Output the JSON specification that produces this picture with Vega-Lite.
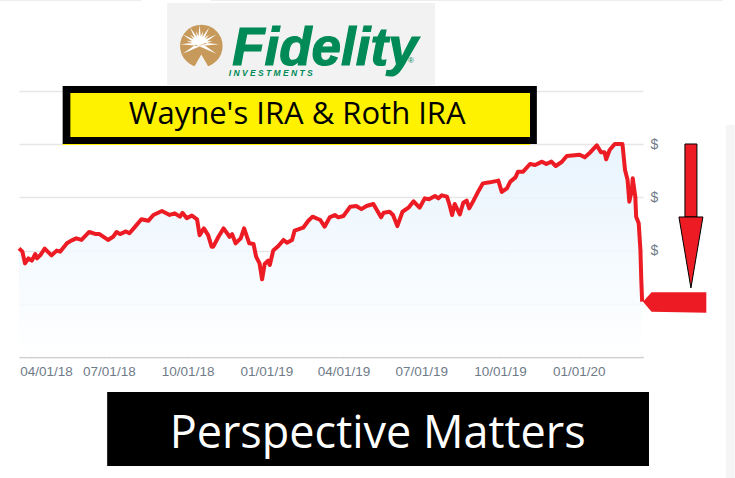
{"$schema":"https://vega.github.io/schema/vega-lite/v6.json","width":624,"height":266,"autosize":{"type":"none"},"padding":{"left":19,"top":91,"right":92,"bottom":121},"background":"white","config":{"view":{"stroke":null}},
"data":{"values":[
{"date":"2018-03-18","value":204.3},{"date":"2018-03-22","value":198},{"date":"2018-03-25","value":176},{"date":"2018-03-29","value":185.5},{"date":"2018-04-02","value":181},{"date":"2018-04-06","value":193.6},{"date":"2018-04-08","value":185.5},{"date":"2018-04-12","value":191.7},{"date":"2018-04-17","value":203.6},{"date":"2018-04-25","value":191},{"date":"2018-05-01","value":200},{"date":"2018-05-05","value":198},{"date":"2018-05-13","value":213.7},{"date":"2018-05-18","value":218.7},{"date":"2018-05-24","value":223},{"date":"2018-05-30","value":220},{"date":"2018-06-08","value":235},{"date":"2018-06-16","value":231},{"date":"2018-06-20","value":231},{"date":"2018-06-30","value":220},{"date":"2018-07-06","value":226},{"date":"2018-07-10","value":235},{"date":"2018-07-14","value":231},{"date":"2018-07-21","value":236},{"date":"2018-07-25","value":232.5},{"date":"2018-07-31","value":243.7},{"date":"2018-08-08","value":258.8},{"date":"2018-08-16","value":256},{"date":"2018-08-22","value":267},{"date":"2018-09-01","value":274.4},{"date":"2018-09-10","value":267},{"date":"2018-09-16","value":270},{"date":"2018-09-22","value":263.8},{"date":"2018-09-25","value":271},{"date":"2018-09-30","value":261},{"date":"2018-10-06","value":266},{"date":"2018-10-12","value":258.8},{"date":"2018-10-15","value":229},{"date":"2018-10-20","value":241.8},{"date":"2018-10-25","value":229},{"date":"2018-10-29","value":207.4},{"date":"2018-10-31","value":207.4},{"date":"2018-11-06","value":226},{"date":"2018-11-12","value":241.8},{"date":"2018-11-19","value":226},{"date":"2018-11-22","value":231},{"date":"2018-11-26","value":213.7},{"date":"2018-12-02","value":223},{"date":"2018-12-06","value":241.8},{"date":"2018-12-12","value":213.7},{"date":"2018-12-17","value":212.4},{"date":"2018-12-20","value":188.6},{"date":"2018-12-24","value":176},{"date":"2018-12-27","value":146},{"date":"2018-12-30","value":174.8},{"date":"2019-01-03","value":181},{"date":"2019-01-05","value":172.9},{"date":"2019-01-09","value":200},{"date":"2019-01-15","value":208.6},{"date":"2019-01-21","value":220},{"date":"2019-01-25","value":214.9},{"date":"2019-01-31","value":220},{"date":"2019-02-03","value":237.5},{"date":"2019-02-13","value":243},{"date":"2019-02-19","value":256},{"date":"2019-02-24","value":263.8},{"date":"2019-03-05","value":257.5},{"date":"2019-03-10","value":245},{"date":"2019-03-16","value":262.5},{"date":"2019-03-22","value":266.9},{"date":"2019-03-26","value":262.5},{"date":"2019-04-01","value":265},{"date":"2019-04-09","value":282.6},{"date":"2019-04-16","value":283.8},{"date":"2019-04-22","value":278},{"date":"2019-04-28","value":283.8},{"date":"2019-05-06","value":287.6},{"date":"2019-05-15","value":262.5},{"date":"2019-05-18","value":271},{"date":"2019-05-25","value":273},{"date":"2019-05-29","value":267},{"date":"2019-06-03","value":246},{"date":"2019-06-09","value":273},{"date":"2019-06-16","value":280.7},{"date":"2019-06-22","value":292.6},{"date":"2019-06-29","value":280.7},{"date":"2019-07-05","value":298.2},{"date":"2019-07-10","value":296.4},{"date":"2019-07-17","value":302.6},{"date":"2019-07-21","value":298.2},{"date":"2019-07-25","value":303.9},{"date":"2019-07-31","value":301.4},{"date":"2019-08-03","value":285.7},{"date":"2019-08-06","value":266.9},{"date":"2019-08-09","value":287.6},{"date":"2019-08-15","value":268},{"date":"2019-08-19","value":290},{"date":"2019-08-23","value":293.9},{"date":"2019-08-26","value":279.4},{"date":"2019-08-31","value":293.9},{"date":"2019-09-06","value":312.7},{"date":"2019-09-11","value":326.4},{"date":"2019-09-19","value":328.3},{"date":"2019-09-29","value":331.5},{"date":"2019-10-03","value":310.2},{"date":"2019-10-09","value":317},{"date":"2019-10-13","value":329.6},{"date":"2019-10-19","value":337.7},{"date":"2019-10-22","value":348.4},{"date":"2019-10-28","value":348.4},{"date":"2019-11-05","value":362.8},{"date":"2019-11-11","value":360.9},{"date":"2019-11-19","value":367.2},{"date":"2019-11-24","value":362.8},{"date":"2019-11-30","value":367.2},{"date":"2019-12-05","value":359},{"date":"2019-12-12","value":366.5},{"date":"2019-12-18","value":377.8},{"date":"2020-01-02","value":380.3},{"date":"2020-01-08","value":375.3},{"date":"2020-01-14","value":384},{"date":"2020-01-22","value":397.9},{"date":"2020-01-27","value":384.7},{"date":"2020-01-31","value":384.7},{"date":"2020-02-02","value":371.6},{"date":"2020-02-06","value":389},{"date":"2020-02-12","value":400.4},{"date":"2020-02-21","value":400.4},{"date":"2020-02-24","value":351.5},{"date":"2020-02-27","value":332.7},{"date":"2020-02-29","value":292},{"date":"2020-03-03","value":314},{"date":"2020-03-04","value":335.8},{"date":"2020-03-07","value":301.4},{"date":"2020-03-08","value":263.8},{"date":"2020-03-11","value":251.3},{"date":"2020-03-13","value":201},{"date":"2020-03-14","value":144.7},{"date":"2020-03-15","value":104}
]},
"encoding":{
"x":{"field":"date","type":"temporal","title":null,"scale":{"type":"utc","domain":[{"year":2018,"month":3,"date":18,"utc":true},{"year":2020,"month":3,"date":16,"utc":true}]},
"axis":{"grid":false,"domainColor":"#d0d0d0","domainWidth":1.5,"tickColor":"#e0e0e0","tickSize":-5,"labelPadding":12,"labelFont":"Liberation Sans","labelFontSize":13.5,"labelColor":"#6f7b88","labelExpr":"utcFormat(datum.value,'%m/%d/%y')","labelOverlap":false,"labelOffset":{"condition":{"test":"datum.index==0","value":15},"value":0},"values":[{"year":2018,"month":4,"date":1,"utc":true},{"year":2018,"month":7,"date":1,"utc":true},{"year":2018,"month":10,"date":1,"utc":true},{"year":2019,"month":1,"date":1,"utc":true},{"year":2019,"month":4,"date":1,"utc":true},{"year":2019,"month":7,"date":1,"utc":true},{"year":2019,"month":10,"date":1,"utc":true},{"year":2020,"month":1,"date":1,"utc":true}]}},
"y":{"field":"value","type":"quantitative","title":null,"scale":{"domain":[0,500],"nice":false,"zero":false},
"axis":{"orient":"right","values":[0,100,200,300,400,500],"domain":false,"ticks":false,"grid":true,"gridColor":"#e6e6e6","gridWidth":1.5,"labelPadding":7,"labelFont":"Liberation Sans","labelFontSize":14,"labelColor":"#6f7b88","labelExpr":"datum.value>=200&&datum.value<=400?'$':''"}}
},
"layer":[
{"mark":{"type":"area","color":{"gradient":"linear","x1":0,"y1":0,"x2":0,"y2":1,"stops":[{"offset":0,"color":"#e4f2fd"},{"offset":1,"color":"#ffffff"}]},"opacity":0.85}},
{"mark":{"type":"line","color":"#ed1c24","strokeWidth":4,"strokeJoin":"round"}},
{"data":{"values":[{"date":"2018-02-24","d2":"2018-08-08","value":671,"v2":669},{"date":"2018-10-28","d2":"2020-06-17","value":671,"v2":669}]},"mark":{"type":"rect","color":"#eeeeee"},"encoding":{"x2":{"field":"d2"},"y2":{"field":"v2"}}},
{"data":{"values":[{"date":"2020-06-21","d2":"2020-07-01","value":436,"v2":-227.4}]},"mark":{"type":"rect","color":"#f5f5f5"},"encoding":{"x2":{"field":"d2"},"y2":{"field":"v2"}}},
{"data":{"values":[{"date":"2018-09-07","d2":"2019-07-17","value":665.4,"v2":511.3}]},"mark":{"type":"rect","color":"#f2f2f2"},"encoding":{"x2":{"field":"d2"},"y2":{"field":"v2"}}},
{"data":{"values":[{"date":"2018-10-17","value":584.6}]},"mark":{"type":"point","filled":true,"shape":"circle","size":1810,"color":"#c79a5b","opacity":1}},
{"data":{"values":[{"date":"2018-10-15","value":588}]},"mark":{"type":"point","filled":true,"size":1500,"color":"#ffffff","opacity":1,"shape":"M1 0L0 -.1L0 .1ZM.87 -.5L.05 .09L-.05 -.09ZM.5 -.87L.09 .05L-.09 -.05ZM0 -1L.1 0L-.1 0ZM-.5 -.87L.09 -.05L-.09 .05ZM-.87 -.5L.05 -.09L-.05 .09ZM-1 0L0 -.1L0 .1ZM-.87 .5L.05 .09L-.05 -.09ZM.87 .5L.05 -.09L-.05 .09ZM.68 -.18L.03 .1L-.03 -.1ZM.5 -.5L.07 .07L-.07 -.07ZM.18 -.68L.1 .03L-.1 -.03ZM-.18 -.68L.1 -.03L-.1 .03ZM-.5 -.5L.07 -.07L-.07 .07ZM-.68 -.18L.03 -.1L-.03 .1Z"}},
{"data":{"values":[{"date":"2018-10-17","value":552}]},"mark":{"type":"point","filled":true,"shape":"triangle-up","size":420,"color":"#f2f2f2","opacity":1}},
{"data":{"values":[{"date":"2018-11-22","value":548.9}]},"mark":{"type":"text","text":"Fidelity","font":"Liberation Sans","fontWeight":"bold","fontStyle":"italic","fontSize":53,"color":"#008a57","stroke":"#008a57","strokeWidth":1.2,"align":"left","baseline":"alphabetic"}},
{"data":{"values":[{"date":"2018-11-18","value":529}]},"mark":{"type":"text","text":"I N V E S T M E N T S","font":"Liberation Sans","fontWeight":"bold","fontStyle":"italic","fontSize":8.5,"color":"#008a57","align":"left","baseline":"alphabetic"}},
{"data":{"values":[{"date":"2019-06-19","value":556}]},"mark":{"type":"text","text":"®","font":"Liberation Sans","fontSize":8,"color":"#008a57","align":"center","baseline":"middle"}},
{"data":{"values":[{"date":"2018-05-08","d2":"2019-11-05","value":400.4,"v2":398.5}]},"mark":{"type":"rect","color":"#fff200"},"encoding":{"x2":{"field":"d2"},"y2":{"field":"v2"}}},
{"data":{"values":[{"date":"2018-05-08","d2":"2019-11-13","value":509.4,"v2":400.4}]},"mark":{"type":"rect","color":"#000000"},"encoding":{"x2":{"field":"d2"},"y2":{"field":"v2"}}},
{"data":{"values":[{"date":"2018-05-17","d2":"2019-11-05","value":496.2,"v2":413.5}]},"mark":{"type":"rect","color":"#fff200"},"encoding":{"x2":{"field":"d2"},"y2":{"field":"v2"}}},
{"data":{"values":[{"date":"2019-02-06","value":454.9}]},"mark":{"type":"text","text":"Wayne's IRA & Roth IRA","font":"Open Sans","fontSize":31,"color":"#000000","align":"center","baseline":"middle"}},
{"data":{"values":[{"date":"2018-06-29","d2":"2020-03-23","value":-65.8,"v2":-204.9}]},"mark":{"type":"rect","color":"#000000"},"encoding":{"x2":{"field":"d2"},"y2":{"field":"v2"}}},
{"data":{"values":[{"date":"2019-05-11","value":-144}]},"mark":{"type":"text","text":"Perspective Matters","font":"Open Sans","fontSize":45,"color":"#ffffff","align":"center","baseline":"middle"}},
{"data":{"values":[{"date":"2020-05-04","d2":"2020-05-18","value":400.4,"v2":263.2}]},"mark":{"type":"rect","color":"#ed1c24","stroke":"#000000","strokeWidth":1},"encoding":{"x2":{"field":"d2"},"y2":{"field":"v2"}}},
{"data":{"values":[{"date":"2020-04-27","value":263.2,"v2":263.2},{"date":"2020-05-11","value":263.2,"v2":129.7},{"date":"2020-05-25","value":263.2,"v2":263.2}]},"mark":{"type":"area","color":"#ed1c24","stroke":"#000000","strokeWidth":1},"encoding":{"y2":{"field":"v2"}}},
{"data":{"values":[{"date":"2020-03-16","value":104,"v2":104},{"date":"2020-03-26","value":121.6,"v2":85.2},{"date":"2020-05-29","value":121.6,"v2":83.3}]},"mark":{"type":"area","color":"#ed1c24"},"encoding":{"y2":{"field":"v2"}}}
]}
